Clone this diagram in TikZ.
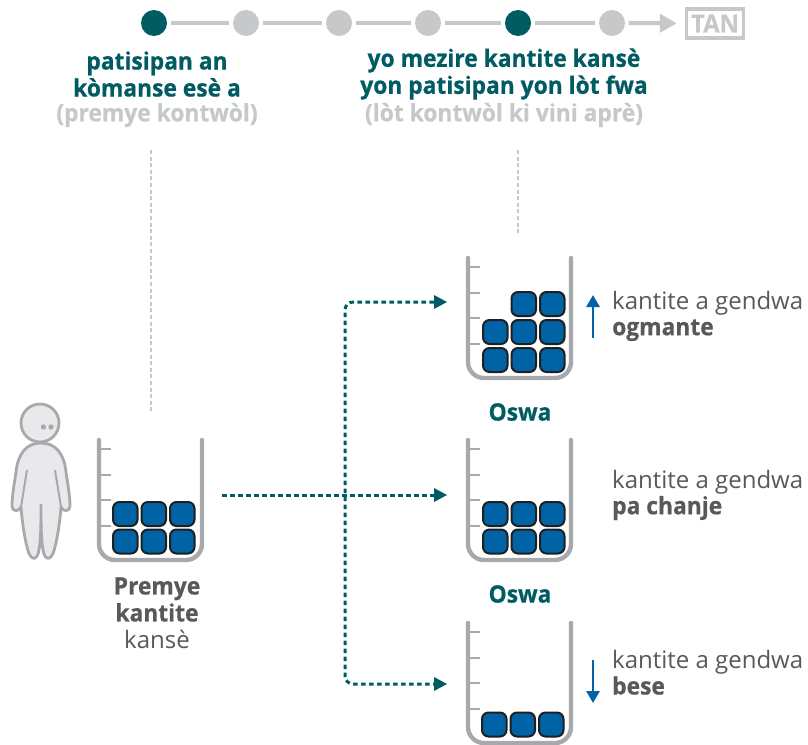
\documentclass[tikz,border=0pt]{standalone}
\usepackage{fontspec}
\setmainfont[FakeStretch=1.0,BoldFeatures={FakeStretch=0.95,FakeBold=0.6}]{Open Sans}
\usetikzlibrary{arrows.meta}
\definecolor{teal}{HTML}{005B63}
\definecolor{lgray}{HTML}{C7C8CA}
\definecolor{mgray}{HTML}{A7A9AC}
\definecolor{dgray}{HTML}{58595B}
\definecolor{bblue}{HTML}{0063A6}
\definecolor{skin}{HTML}{E9E9EB}
\tikzset{
 x=1pt,y=-1pt,
 stepdot/.style={circle,inner sep=0,minimum size=26pt,fill=lgray},
 stepact/.style={stepdot,fill=teal},
 tline/.style={lgray,line width=4pt,shorten >=3.5pt,shorten <=3.5pt},
 head/.style={teal,font=\fontsize{24}{27}\selectfont\bfseries,align=center,inner sep=0},
 headg/.style={lgray,font=\fontsize{24}{27}\selectfont\bfseries,align=center,inner sep=0},
 lab/.style={dgray,font=\fontsize{24}{26}\selectfont,align=left,anchor=west,inner sep=0},
 labc/.style={dgray,font=\fontsize{24}{27}\selectfont,align=center,inner sep=0},
 guide/.style={lgray,line width=2.8pt,dash pattern=on 4pt off 2.6pt},
 flow/.style={teal,line width=3pt,dash pattern=on 4.6pt off 3.4pt,rounded corners=8pt},
 ahead/.style={fill=teal,draw=none},
 blk/.style={draw=black!88,fill=bblue,line width=2pt,rounded corners=6.5pt},
 glass/.style={mgray,line width=4.4pt,line cap=round,rounded corners=16pt},
 tick/.style={mgray,line width=2.8pt},
 blue/.style={bblue,line width=2.8pt,-{Triangle[length=12pt,width=13pt]}}
}
\newcommand{\beaker}[2]{%
 \draw[glass] (#1+99,#2+440) -- (#1+99,#2+560) -- (#1+202,#2+560) -- (#1+202,#2+440);
 \foreach \ty in {449,475,500,526}{\draw[tick] (#1+99,#2+\ty) -- (#1+111,#2+\ty);}
}
\newcommand{\blockat}[2]{\draw[blk] (#1,#2) rectangle ++(24.5,24);}
\begin{document}
\begin{tikzpicture}
\useasboundingbox (0,0) rectangle (808,744);
% timeline
\node[stepact] (s1) at (154,23) {};
\node[stepdot] (s2) at (246,23) {};
\node[stepdot] (s3) at (339,23) {};
\node[stepdot] (s4) at (428,23) {};
\node[stepact] (s5) at (518,23) {};
\node[stepdot] (s6) at (612,23) {};
\node[draw=lgray,line width=3.4pt,minimum width=57pt,minimum height=29pt,inner sep=0,text=lgray,font=\fontsize{25}{25}\selectfont\bfseries] (tan) at (715,23.5) {TAN};
\draw[tline] (s1) -- (s2);
\draw[tline] (s2) -- (s3);
\draw[tline] (s3) -- (s4);
\draw[tline] (s4) -- (s5);
\draw[tline] (s5) -- (s6);
\draw[lgray,line width=4pt,shorten <=3.5pt,shorten >=8pt,-{Triangle[length=17pt,width=18pt]}] (s6) -- (tan);
% headings
\node[head] (h1) at (157,74) {patisipan an\\kòmanse esè a};
\node[headg] (h1b) at (157,115) {(premye kontwòl)};
\node[head] (h2) at (504,74) {yo mezire kantite kansè\\yon patisipan yon lòt fwa};
\node[headg] (h2b) at (504,115) {(lòt kontwòl ki vini aprè)};
% guides
\coordinate (g1a) at (151,150); \coordinate (g1b) at (151,411);
\coordinate (g2a) at (518,150); \coordinate (g2b) at (518,233);
\draw[guide] (g1a) -- (g1b);
\draw[guide] (g2a) -- (g2b);
% person
\draw[mgray,fill=skin,line width=2.8pt,line join=round]
 (41,443) .. controls (26,443) and (18,454) .. (16,472)
 .. controls (14,485) and (12,497) .. (12,506)
 .. controls (12,512) and (19,512) .. (21,507)
 .. controls (22,520) and (24,535) .. (27,547)
 .. controls (30,561) and (37,562) .. (39,550)
 .. controls (41,538) and (41,520) .. (41,505)
 .. controls (41,520) and (41,538) .. (43,550)
 .. controls (45,562) and (52,561) .. (55,547)
 .. controls (58,535) and (60,520) .. (61,507)
 .. controls (63,512) and (70,512) .. (70,506)
 .. controls (70,497) and (68,485) .. (66,472)
 .. controls (64,454) and (56,443) .. (41,443) -- cycle;
\draw[mgray,line width=2pt] (27,470) -- (21,507);
\draw[mgray,line width=2pt] (55,470) -- (61,507);
\draw[mgray,fill=skin,line width=2.8pt] (40,423) circle[radius=19];
\fill[mgray] (43.5,427) circle[radius=2.7] (51,427) circle[radius=2.7];
% beakers
\beaker{0}{0}
\beaker{369}{-182}
\beaker{369}{0}
\beaker{369}{183}
% blocks left
\foreach \bx in {113,141.5,170}{\blockat{\bx}{502}\blockat{\bx}{529.5}}
% blocks top
\foreach \bx in {483,511.5,540}{\blockat{\bx}{348}\blockat{\bx}{320}}
\foreach \bx in {511.5,540}{\blockat{\bx}{292}}
% blocks mid
\foreach \bx in {483,511.5,540}{\blockat{\bx}{502}\blockat{\bx}{529.5}}
% blocks bottom
\foreach \bx in {482,510.5,539}{\blockat{\bx}{712.5}}
% flow
\coordinate (fs) at (222,495);
\coordinate (fj) at (345,495);
\coordinate (ft) at (434,302);
\coordinate (fm) at (434,495);
\coordinate (fb) at (434,684);
\draw[flow] (fs) -- (fm);
\draw[flow] (ft) -- (345,302) -- (345,684) -- (fb);
\fill[ahead] (ft) ++(0,-7) -- ++(13,7) -- ++(-13,7) -- cycle;
\fill[ahead] (fm) ++(0,-7) -- ++(13,7) -- ++(-13,7) -- cycle;
\fill[ahead] (fb) ++(0,-7) -- ++(13,7) -- ++(-13,7) -- cycle;
% blue arrows
\coordinate (u1) at (593,338); \coordinate (u2) at (593,295);
\coordinate (d1) at (593,660); \coordinate (d2) at (593,703);
\draw[blue] (u1) -- (u2);
\draw[blue] (d1) -- (d2);
% labels
\node[lab] (l1) at (612,316) {kantite a gendwa\\\textbf{ogmante}};
\node[lab] (l2) at (612,495) {kantite a gendwa\\\textbf{pa chanje}};
\node[lab] (l3) at (612,672.5) {kantite a gendwa\\\textbf{bese}};
\node[head] (o1) at (520,412) {Oswa};
\node[head] (o2) at (520,594) {Oswa};
\node[labc] (p) at (157,613) {\textbf{Premye}\\\textbf{kantite}\\kansè};
\end{tikzpicture}
\end{document}
